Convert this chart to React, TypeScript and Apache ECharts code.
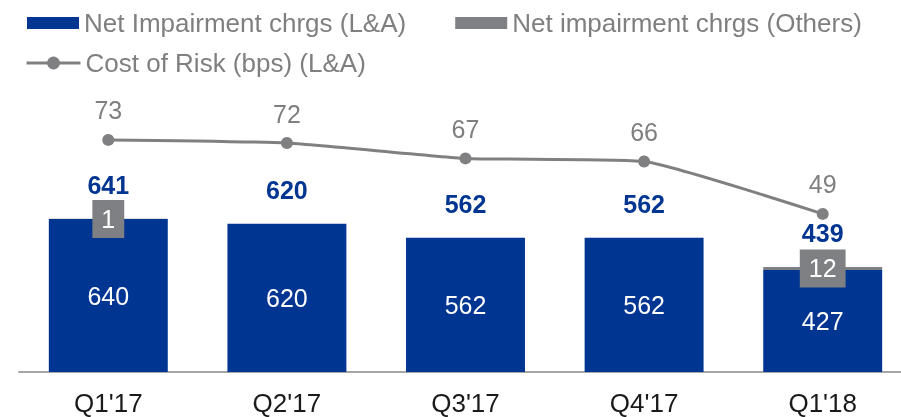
import React, { useEffect, useRef } from "react";
import * as echarts from "echarts";

const categories = ["Q1'17", "Q2'17", "Q3'17", "Q4'17", "Q1'18"];
const impairmentLA = [640, 620, 562, 562, 427];
const impairmentOthers = [1, 0, 0, 0, 12];
const totals = [641, 620, 562, 562, 439];
const costOfRisk = [73, 72, 67, 66, 49];

const BLUE = "#003591";
const GRAY_BAR = "#7f8084";
const GRAY_LINE = "#808083";
const FONT = "'Liberation Sans', Arial, sans-serif";

export default function App() {
  const ref = useRef<HTMLDivElement>(null);
  useEffect(() => {
    if (!ref.current) return;
    const chart = echarts.init(ref.current, null, { renderer: "svg" });
    chart.setOption({
      animation: false,
      textStyle: { fontFamily: FONT },
      legend: [
        {
          left: 22,
          top: 5,
          itemWidth: 52,
          itemHeight: 12,
          itemGap: 49,
          data: [
            { name: "Net Impairment chrgs (L&A)", icon: "rect" },
            { name: "Net impairment chrgs (Others)", icon: "rect" },
          ],
          textStyle: { color: "#7f7f7f", fontSize: 26, fontFamily: FONT },
        },
        {
          left: 20,
          top: 45,
          itemWidth: 54,
          itemHeight: 16,
          data: [
            {
              name: "Cost of Risk (bps) (L&A)",
              lineStyle: { width: 3, color: GRAY_LINE },
            },
          ],
          textStyle: { color: "#7f7f7f", fontSize: 26, fontFamily: FONT },
        },
      ],
      grid: { left: 19, width: 893, top: 72, height: 300 },
      xAxis: {
        type: "category",
        data: categories,
        axisLine: { lineStyle: { color: "#a6a6a6", width: 2 } },
        axisTick: { show: false },
        axisLabel: { color: "#1a1a1a", fontSize: 26, margin: 18, fontFamily: FONT },
      },
      yAxis: [
        { type: "value", min: 0, max: 1255, show: false, splitLine: { show: false } },
        { type: "value", min: -2.27, max: 95.03, show: false, splitLine: { show: false } },
      ],
      series: [
        {
          name: "Net Impairment chrgs (L&A)",
          type: "bar",
          stack: "a",
          barWidth: "66.6%",
          data: impairmentLA,
          itemStyle: { color: BLUE },
          label: {
            show: true,
            position: "inside",
            color: "#ffffff",
            fontSize: 25,
            fontFamily: FONT,
          },
        },
        {
          name: "Net impairment chrgs (Others)",
          type: "bar",
          stack: "a",
          data: impairmentOthers.map((v) => ({
            value: v,
            label: { show: v > 0 },
          })),
          itemStyle: { color: GRAY_BAR },
          label: {
            position: "inside",
            color: "#ffffff",
            fontSize: 25,
            fontFamily: FONT,
            backgroundColor: GRAY_BAR,
            padding: [7, 9, 6, 9],
          },
        },
        {
          name: "totals",
          type: "line",
          data: totals,
          symbol: "circle",
          symbolSize: 1,
          itemStyle: { color: "rgba(0,0,0,0)" },
          lineStyle: { opacity: 0, width: 0 },
          label: {
            show: true,
            position: "top",
            distance: 21,
            color: BLUE,
            fontSize: 25,
            fontWeight: "bold",
            fontFamily: FONT,
          },
          silent: true,
          z: 5,
        },
        {
          name: "Cost of Risk (bps) (L&A)",
          type: "line",
          yAxisIndex: 1,
          data: costOfRisk,
          smooth: 0.15,
          symbol: "circle",
          symbolSize: 12,
          itemStyle: { color: GRAY_LINE },
          lineStyle: { color: GRAY_LINE, width: 3 },
          label: {
            show: true,
            position: "top",
            distance: 11,
            color: "#7f7f7f",
            fontSize: 25,
            fontFamily: FONT,
          },
          z: 4,
        },
      ],
    });
    return () => chart.dispose();
  }, []);
  return (
    <div
      style={{
        position: "fixed",
        left: 0,
        top: 0,
        width: 901,
        height: 417,
        overflow: "hidden",
      }}
    >
      <div ref={ref} style={{ width: 930, height: 417 }} />
    </div>
  );
}
